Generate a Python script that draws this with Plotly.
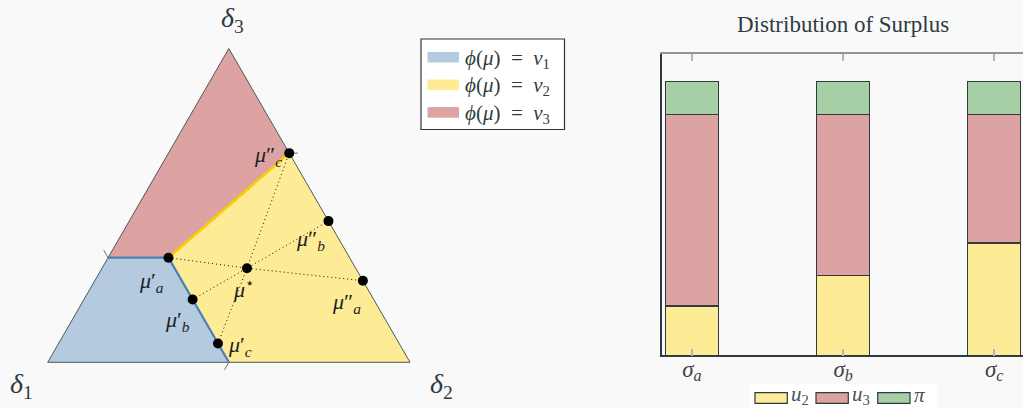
import numpy as np
import plotly.graph_objects as go

# ---------------- data ----------------
# Belief simplex: points in barycentric coordinates (delta1, delta2, delta3)
vertices = [(1, 0, 0), (0, 1, 0), (0, 0, 1)]
vertex_labels = ["<i>δ</i><sub>1</sub>", "<i>δ</i><sub>2</sub>", "<i>δ</i><sub>3</sub>"]

region_v1 = [(1, 0, 0), (0.5, 0.5, 0), (0.5, 1 / 6, 1 / 3), (2 / 3, 0, 1 / 3)]
region_v2 = [(0.5, 1 / 6, 1 / 3), (0, 1 / 3, 2 / 3), (0, 1, 0), (0.5, 0.5, 0)]
region_v3 = [(0, 0, 1), (2 / 3, 0, 1 / 3), (0.5, 1 / 6, 1 / 3), (0, 1 / 3, 2 / 3)]
region_names = ["<i>ϕ</i>(<i>μ</i>)\u2002=\u2002<i>v</i><sub>1</sub>",
                "<i>ϕ</i>(<i>μ</i>)\u2002=\u2002<i>v</i><sub>2</sub>",
                "<i>ϕ</i>(<i>μ</i>)\u2002=\u2002<i>v</i><sub>3</sub>"]

# boundary between v1 and the rest, and between v2 and v3
border_v1 = [(0.5, 0.5, 0), (0.5, 1 / 6, 1 / 3), (2 / 3, 0, 1 / 3)]
border_v23 = [(0.5, 1 / 6, 1 / 3), (0, 1 / 3, 2 / 3)]

prior = (0.3, 0.4, 0.3)
post_low = [(0.5, 1 / 6, 1 / 3), (0.5, 0.3, 0.2), (0.5, 0.44, 0.06)]
post_high = [(0, 0.74, 0.26), (0, 0.55, 0.45), (0, 1 / 3, 2 / 3)]
post_keys = ["a", "b", "c"]

# Surplus split per signal structure
signals = ["<i>σ</i><sub><i>a</i></sub>", "<i>σ</i><sub><i>b</i></sub>", "<i>σ</i><sub><i>c</i></sub>"]
u2 = [0.18, 0.29, 0.41]
u3 = [0.70, 0.59, 0.47]
profit = [0.12, 0.12, 0.12]
bar_names = ["<i>u</i><sub>2</sub>", "<i>u</i><sub>3</sub>", "<i>π</i>"]

# ---------------- style ----------------
W, H = 1023, 408
BG = "#f9f9f9"
INK = "#2f3b40"
BLUE, YELLOW, RED, GREEN = "#b3cadf", "#fdeb96", "#dda3a3", "#a6cfa6"
FONT = "Liberation Serif"


def cart(p):
    """Barycentric -> planar coordinates of the equilateral simplex."""
    p = np.asarray(p, dtype=float)
    return p[..., 1] + 0.5 * p[..., 2], np.sqrt(3) / 2 * p[..., 2]


def xy(points, close=False):
    pts = list(points) + ([points[0]] if close else [])
    x, y = cart(np.array(pts))
    return list(x), list(y)


def px(x):
    return x / W


def py(y):
    return 1 - y / H


fig = go.Figure()

# regions
for reg, col in zip([region_v1, region_v2, region_v3], [BLUE, YELLOW, RED]):
    x, y = xy(reg, close=True)
    fig.add_trace(go.Scatter(x=x, y=y, fill="toself", fillcolor=col, mode="none",
                             hoverinfo="skip", showlegend=False, xaxis="x", yaxis="y"))

# simplex outline
x, y = xy(vertices, close=True)
fig.add_trace(go.Scatter(x=x, y=y, mode="lines", line=dict(color="#50575a", width=1),
                         hoverinfo="skip", showlegend=False))

# region borders
x, y = xy(border_v1)
fig.add_trace(go.Scatter(x=x, y=y, mode="lines", line=dict(color="#4a80b8", width=2.2),
                         hoverinfo="skip", showlegend=False))
x, y = xy(border_v23)
fig.add_trace(go.Scatter(x=x, y=y, mode="lines", line=dict(color="#f7cf00", width=2.6),
                         hoverinfo="skip", showlegend=False))

# small edge ticks where the borders meet the simplex edges
edge_dir = {
    (2 / 3, 0, 1 / 3): (-0.5, np.sqrt(3) / 2),
    (0.5, 0.5, 0): (-0.5, -np.sqrt(3) / 2),
    (0, 1 / 3, 2 / 3): (1.0, 0.0),
}
for p, d in edge_dir.items():
    x0, y0 = cart(p)
    L = 0.024
    fig.add_trace(go.Scatter(x=[x0, x0 + L * d[0]], y=[y0, y0 + L * d[1]], mode="lines",
                             line=dict(color="#707070", width=1), hoverinfo="skip",
                             showlegend=False))

# splitting lines through the prior
for lo, hi in zip(post_low, post_high):
    x, y = xy([lo, prior, hi])
    fig.add_trace(go.Scatter(x=x, y=y, mode="lines",
                             line=dict(color="#111", width=1, dash="1px,3px"),
                             hoverinfo="skip", showlegend=False))

# posterior and prior dots
x, y = xy(post_low + post_high + [prior])
fig.add_trace(go.Scatter(x=x, y=y, mode="markers", marker=dict(color="black", size=10),
                         hoverinfo="skip", showlegend=False))

# ---------------- stacked bars ----------------
for vals, col, name in zip([u2, u3, profit], [YELLOW, RED, GREEN], bar_names):
    fig.add_trace(go.Bar(x=signals, y=vals, name=name, width=0.35,
                         marker=dict(color=col, line=dict(color=INK, width=1.2)),
                         xaxis="x2", yaxis="y2", showlegend=False))
# invisible trace carrying the mirrored top axis
fig.add_trace(go.Scatter(x=signals, y=[None] * 3, xaxis="x3", yaxis="y2",
                         showlegend=False, hoverinfo="skip"))

annotations = []
shapes = []

# vertex labels
offsets = [(-26, -23), (31, -23), (4, 29)]
for v, lab, (dx, dy) in zip(vertices, vertex_labels, offsets):
    x0, y0 = cart(v)
    annotations.append(dict(x=float(x0), y=float(y0), xref="x", yref="y", text=lab,
                            showarrow=False, xshift=dx, yshift=dy,
                            font=dict(family=FONT, size=28, color=INK)))

# posterior labels
LBL = dict(family=FONT, size=22, color="#1e1e1e")
low_shift = [(-17, -24), (-15, -21), (22, -3)]
high_shift = [(-16, -22), (-18, -19), (-21, -3)]
for k, p, s in zip(post_keys, post_low, low_shift):
    x0, y0 = cart(p)
    annotations.append(dict(x=float(x0), y=float(y0), xref="x", yref="y",
                            text=f"<i>μ</i>′<sub><i>{k}</i></sub>", showarrow=False,
                            xshift=s[0], yshift=s[1], font=LBL))
for k, p, s in zip(post_keys, post_high, high_shift):
    x0, y0 = cart(p)
    annotations.append(dict(x=float(x0), y=float(y0), xref="x", yref="y",
                            text=f"<i>μ</i>″<sub><i>{k}</i></sub>", showarrow=False,
                            xshift=s[0], yshift=s[1], font=LBL))
x0, y0 = cart(prior)
annotations.append(dict(x=float(x0), y=float(y0), xref="x", yref="y",
                        text="<i>μ</i><sup>⋆</sup>", showarrow=False, xshift=-3, yshift=-20,
                        font=LBL))

# region legend (boxed)
shapes.append(dict(type="rect", xref="paper", yref="paper", x0=px(421), x1=px(564.5),
                   y0=py(39), y1=py(129.5), fillcolor="white",
                   line=dict(color="#333", width=1.2), layer="above"))
for i, (col, name) in enumerate(zip([BLUE, YELLOW, RED], region_names)):
    yc = 57.2 + 27.6 * i
    shapes.append(dict(type="rect", xref="paper", yref="paper", x0=px(427.5), x1=px(459),
                       y0=py(yc - 5.3), y1=py(yc + 5.3), fillcolor=col,
                       line=dict(width=0), layer="above"))
    annotations.append(dict(x=px(462.5), y=py(yc + 1.5), xref="paper", yref="paper",
                            text=name, showarrow=False, xanchor="left", yanchor="middle",
                            font=dict(family=FONT, size=21, color=INK)))

# bar legend
shapes.append(dict(type="rect", xref="paper", yref="paper", x0=px(750), x1=px(937),
                   y0=py(384), y1=py(408), fillcolor="white", line=dict(width=0),
                   layer="below"))
legend_x = [(755, 787.3), (816, 848.3), (877.7, 910)]
for (a, b), col, name in zip(legend_x, [YELLOW, RED, GREEN], bar_names):
    shapes.append(dict(type="rect", xref="paper", yref="paper", x0=px(a), x1=px(b),
                       y0=py(392.7), y1=py(403.3), fillcolor=col,
                       line=dict(color=INK, width=1.2), layer="above"))
    annotations.append(dict(x=px(b + 1.5), y=py(394.5), xref="paper", yref="paper",
                            text=name, showarrow=False, xanchor="left", yanchor="middle",
                            font=dict(family=FONT, size=21, color="#4a5258")))

# bar title
annotations.append(dict(x=px(843), y=py(24), xref="paper", yref="paper",
                        text="Distribution of Surplus", showarrow=False,
                        xanchor="center", yanchor="middle",
                        font=dict(family=FONT, size=23, color=INK)))

fig.update_layout(
    width=W, height=H,
    margin=dict(l=0, r=0, t=0, b=0),
    paper_bgcolor=BG, plot_bgcolor=BG,
    showlegend=False,
    barmode="stack",
    font=dict(family=FONT, color=INK),
    xaxis=dict(domain=[0, 460 / W], range=[-47.7 / 362.3, (460 - 47.7) / 362.3],
               visible=False, fixedrange=True),
    yaxis=dict(domain=[0, 1], range=[-(408 - 362.3) / 362.3, 1.0],
               visible=False, fixedrange=True),
    xaxis2=dict(domain=[661.7 / W, 1], range=[-0.2, 2.19], anchor="y2",
                showline=True, linecolor=INK, linewidth=1.5,
                ticks="inside", ticklen=7, tickwidth=2, tickcolor="#b5b5b5",
                showgrid=False, zeroline=False, ticklabelstandoff=-8,
                tickfont=dict(family=FONT, size=23, color="#3a4448")),
    xaxis3=dict(domain=[661.7 / W, 1], range=[-0.2, 2.19], anchor="y2", overlaying="x2",
                side="top", showline=True, linecolor="#8c9799", linewidth=2,
                ticks="inside", ticklen=7, tickwidth=2, tickcolor="#b5b5b5",
                showticklabels=False, showgrid=False, zeroline=False),
    yaxis2=dict(domain=[(408 - 355.3) / 408, (408 - 54) / 408], range=[0, 1.1],
                anchor="x2", showline=True, linecolor=INK, linewidth=1.5,
                ticks="", showticklabels=False, showgrid=False, zeroline=False),
    annotations=annotations,
    shapes=shapes,
)

fig.write_html("out.html")
